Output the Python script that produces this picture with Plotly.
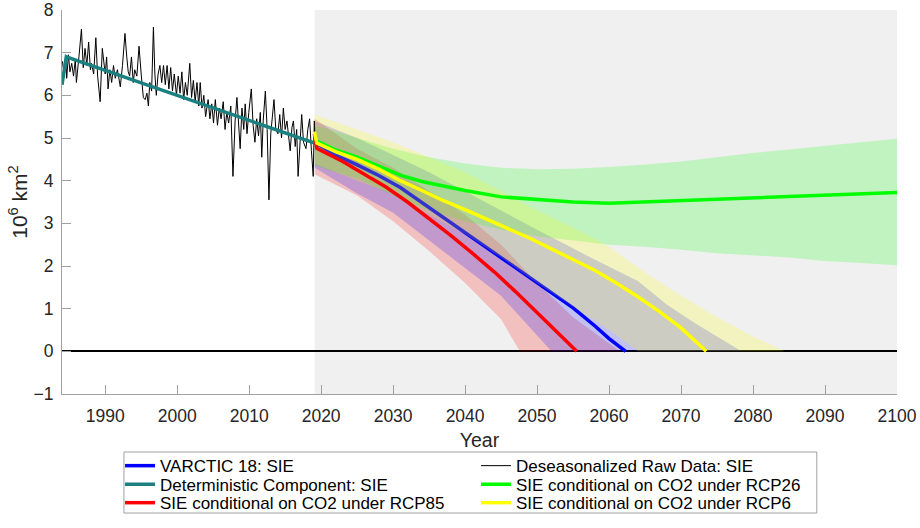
import plotly.graph_objects as go

# observed (deseasonalized) sea ice extent, 10^6 km^2
raw_years = [1984.05, 1984.3, 1984.5, 1984.65, 1984.9, 1985.1, 1985.35, 1985.6, 1985.85, 1986.0,
             1986.35, 1986.7, 1986.95, 1987.2, 1987.45, 1987.7, 1987.95, 1988.1, 1988.4, 1988.7,
             1988.95, 1989.3, 1989.6, 1989.8, 1990.0, 1990.2, 1990.4, 1990.65, 1990.9, 1991.15,
             1991.4, 1991.7, 1992.1, 1992.4, 1992.75, 1993.0, 1993.2, 1993.4, 1993.65, 1993.9,
             1994.1, 1994.4, 1994.7, 1995.0, 1995.3, 1995.55, 1995.8, 1996.0, 1996.2, 1996.45,
             1996.7, 1996.9, 1997.1, 1997.35, 1997.6, 1997.85, 1998.1, 1998.35, 1998.6, 1998.85,
             1999.1, 1999.35, 1999.6, 1999.9, 2000.15, 2000.4, 2000.65, 2000.9, 2001.15, 2001.4,
             2001.75, 2002.0, 2002.25, 2002.5, 2002.75, 2003.0, 2003.2, 2003.45, 2003.7, 2003.95,
             2004.3, 2004.55, 2004.8, 2005.05, 2005.3, 2005.6, 2005.85, 2006.1, 2006.4, 2006.65,
             2006.9, 2007.15, 2007.45, 2007.75, 2008.05, 2008.3, 2008.55, 2008.75, 2009.0, 2009.25,
             2009.45, 2009.7, 2009.95, 2010.3, 2010.55, 2010.8, 2011.05, 2011.3, 2011.55, 2011.75,
             2011.95, 2012.25, 2012.5, 2012.75, 2013.0, 2013.25, 2013.45, 2013.7, 2014.0, 2014.25,
             2014.5, 2014.75, 2015.0, 2015.25, 2015.5, 2015.7, 2015.95, 2016.15, 2016.4, 2016.6,
             2016.8, 2017.05, 2017.3, 2017.55, 2017.9, 2018.15, 2018.4, 2018.65, 2018.9, 2019.05,
             2019.15]
raw_sie = [6.8, 6.5, 6.95, 6.4, 6.95, 6.55, 6.75, 6.45, 6.85, 6.3,
           6.9, 7.55, 6.65, 7.1, 6.7, 7.25, 6.6, 6.75, 6.5, 7.35,
           6.45, 5.85, 7.1, 6.8, 6.5, 6.9, 6.15, 6.6, 6.3, 6.7,
           6.4, 6.6, 6.2, 6.7, 7.45, 6.9, 6.55, 6.45, 6.9, 6.3,
           6.6, 6.45, 7.15, 6.5, 5.95, 5.9, 6.05, 5.75, 6.3, 6.1,
           7.6, 6.5, 6.0, 6.5, 6.7, 6.3, 6.7, 6.25, 6.7, 6.15,
           6.65, 6.1, 6.5, 6.0, 6.45, 6.05, 6.55, 5.9, 6.3, 6.0,
           6.75, 5.95, 6.35, 5.85, 6.3, 5.75, 6.3, 5.7, 6.0, 5.5,
           5.9, 5.45, 5.8, 5.35, 5.9, 5.3, 5.7, 5.45, 5.85, 5.2,
           5.6, 5.35, 5.75, 4.1, 5.4, 5.95, 5.3, 4.75, 5.7, 5.2,
           5.8, 5.1, 5.6, 6.15, 5.3, 4.9, 5.45, 5.05, 5.6, 4.55,
           5.4, 6.1, 5.2, 3.55, 5.1, 5.65, 5.9, 5.2, 5.1, 5.55,
           5.0, 5.7, 5.2, 5.4, 4.9, 4.7, 5.25, 5.4, 4.8, 5.2,
           4.1, 5.0, 5.55, 4.9, 4.75, 5.2, 5.45, 4.7, 4.1, 5.4,
           5.0]

# deterministic component
det_years = [1984.0, 1984.6, 2019.1]
det_sie = [6.25, 6.9, 4.88]

# VARCTIC 18 projection
varctic_years = [2019.1, 2022, 2025, 2028, 2031, 2034, 2037, 2040, 2043, 2046,
                 2049, 2052, 2055, 2058, 2060, 2062.3]
varctic_sie = [4.9, 4.6, 4.37, 4.12, 3.84, 3.49, 3.13, 2.78, 2.43, 2.08,
               1.72, 1.37, 1.02, 0.6, 0.3, 0.0]
varctic_up_years = [2019.1, 2025, 2030, 2035, 2040, 2045, 2050, 2058, 2064, 2068, 2072, 2078.4]
varctic_up = [5.4, 5.0, 4.6, 4.2, 3.75, 3.3, 2.85, 2.15, 1.65, 1.1, 0.65, 0.0]
varctic_lo_years = [2019.1, 2025, 2030, 2035, 2040, 2045, 2052]
varctic_lo = [4.3, 3.7, 3.25, 2.6, 1.95, 1.3, 0.0]

# RCP85
rcp85_years = [2019.05, 2019.4, 2023, 2026, 2029, 2032, 2035, 2038, 2041, 2044,
               2047, 2050, 2053, 2055.5]
rcp85_sie = [5.1, 4.76, 4.45, 4.16, 3.85, 3.5, 3.12, 2.72, 2.3, 1.87,
             1.4, 0.9, 0.4, 0.0]
rcp85_up_years = [2019.1, 2025, 2030, 2035, 2040, 2045, 2050, 2055, 2061.5]
rcp85_up = [5.45, 4.75, 4.3, 3.75, 3.2, 2.5, 1.6, 0.8, 0.0]
rcp85_lo_years = [2019.1, 2025, 2030, 2035, 2040, 2045, 2047.6]
rcp85_lo = [4.15, 3.65, 3.05, 2.35, 1.6, 0.75, 0.0]

# RCP6
rcp6_years = [2019.05, 2019.4, 2022, 2025, 2028, 2031, 2034, 2037, 2040, 2043,
              2046, 2049, 2052, 2055, 2058, 2061, 2064, 2067, 2070, 2073.5]
rcp6_sie = [5.15, 4.88, 4.68, 4.5, 4.27, 4.0, 3.77, 3.53, 3.32, 3.1,
            2.87, 2.65, 2.4, 2.15, 1.9, 1.6, 1.28, 0.93, 0.55, 0.0]
rcp6_up_years = [2019.1, 2025, 2030, 2035, 2040, 2045, 2050, 2055, 2060, 2065,
                 2070, 2075, 2080, 2084.4]
rcp6_up = [5.55, 5.2, 4.9, 4.55, 4.2, 3.75, 3.3, 2.9, 2.45, 1.85,
           1.3, 0.8, 0.35, 0.0]
rcp6_lo_years = [2019.1, 2025, 2030, 2035, 2040, 2045, 2050, 2055, 2060, 2064]
rcp6_lo = [4.4, 4.0, 3.7, 3.2, 2.75, 2.2, 1.6, 1.05, 0.5, 0.0]

# RCP26
rcp26_years = [2019.1, 2022, 2025, 2028, 2031, 2034, 2037, 2040, 2045, 2050,
               2055, 2060, 2065, 2070, 2075, 2080, 2085, 2090, 2095, 2100]
rcp26_sie = [4.95, 4.72, 4.55, 4.33, 4.13, 3.98, 3.87, 3.77, 3.62, 3.55,
             3.5, 3.47, 3.5, 3.52, 3.56, 3.6, 3.63, 3.66, 3.69, 3.72]
rcp26_band_years = [2019.1, 2025, 2030, 2035, 2040, 2045, 2050, 2055, 2060, 2065,
                    2070, 2075, 2080, 2085, 2090, 2095, 2100]
rcp26_up = [5.3, 5.0, 4.75, 4.55, 4.4, 4.3, 4.27, 4.28, 4.32, 4.38,
            4.45, 4.55, 4.65, 4.73, 4.82, 4.9, 4.98]
rcp26_lo = [4.35, 4.05, 3.65, 3.3, 3.05, 2.85, 2.7, 2.6, 2.5, 2.45,
            2.38, 2.3, 2.25, 2.2, 2.12, 2.07, 2.02]

x_ticks = list(range(1990, 2101, 10))
y_ticks = list(range(-1, 9))

BLUE = "rgb(0,0,255)"
RED = "rgb(255,0,0)"
GREEN = "rgb(0,255,0)"
YELLOW = "rgb(255,255,0)"
TEAL = "rgb(26,128,128)"


def band(up_x, up_y, lo_x, lo_y, color):
    return go.Scatter(
        x=list(up_x) + list(lo_x)[::-1],
        y=list(up_y) + list(lo_y)[::-1],
        fill="toself",
        fillcolor=color,
        line=dict(width=0),
        mode="lines",
        showlegend=False,
        hoverinfo="skip",
    )


def line(x, y, name, color, width, legend):
    return go.Scatter(
        x=x, y=y, mode="lines", name=name,
        line=dict(color=color, width=width),
        legend=legend,
    )


fig = go.Figure()
fig.add_trace(band(rcp85_up_years, rcp85_up, rcp85_lo_years, rcp85_lo, "rgba(255,0,0,0.2)"))
fig.add_trace(band(varctic_up_years, varctic_up, varctic_lo_years, varctic_lo, "rgba(0,0,255,0.2)"))
fig.add_trace(band(rcp26_band_years, rcp26_up, rcp26_band_years, rcp26_lo, "rgba(0,255,0,0.2)"))
fig.add_trace(line(varctic_years, varctic_sie, "VARCTIC 18: SIE", BLUE, 3.5, "legend"))
fig.add_trace(band(rcp6_up_years, rcp6_up, rcp6_lo_years, rcp6_lo, "rgba(255,255,0,0.2)"))
fig.add_trace(line(raw_years, raw_sie, "Deseasonalized Raw Data: SIE", "black", 1, "legend2"))
fig.add_trace(line(det_years, det_sie, "Deterministic Component: SIE", TEAL, 3.5, "legend3"))
fig.add_trace(line(rcp26_years, rcp26_sie, "SIE conditional on CO2 under RCP26", GREEN, 3.5, "legend4"))
fig.add_trace(line(rcp85_years, rcp85_sie, "SIE conditional on CO2 under RCP85", RED, 3.5, "legend5"))
fig.add_trace(line(rcp6_years, rcp6_sie, "SIE conditional on CO2 under RCP6", YELLOW, 3.5, "legend6"))

# shaded forecast period
fig.add_shape(type="rect", xref="x", yref="paper",
              x0=det_years[-1], x1=x_ticks[-1], y0=0, y1=1,
              fillcolor="#f0f0f0", line=dict(width=0), layer="below")
# legend frame around the two legend columns
fig.add_shape(type="rect", xref="paper", yref="paper",
              x0=0.0742, x1=0.904, y0=-0.31, y1=-0.151,
              fillcolor="rgba(0,0,0,0)", line=dict(color="#a0a0a0", width=1))

axis_font = dict(family="Liberation Sans, Arial, sans-serif", size=17.5, color="#262626")


def legend_at(x, y):
    return dict(
        orientation="v",
        x=x,
        xanchor="left",
        y=y,
        yanchor="top",
        itemwidth=30,
        bgcolor="rgba(0,0,0,0)",
        borderwidth=0,
        font=dict(size=17, color="black"),
    )


col_x = [0.0695, 0.4958]
row_y = [-0.1409, -0.1891, -0.2373]

fig.update_layout(
    width=920,
    height=528,
    paper_bgcolor="white",
    plot_bgcolor="white",
    margin=dict(l=62, r=23, t=10, b=134, autoexpand=False),
    font=dict(family="Liberation Sans, Arial, sans-serif", color="#262626"),
    xaxis=dict(
        range=[1984, 2100],
        tickvals=x_ticks,
        ticks="inside",
        ticklen=9,
        tickcolor="#a0a0a0",
        showline=True,
        linecolor="#a0a0a0",
        showgrid=False,
        zeroline=False,
        tickfont=axis_font,
        ticklabelstandoff=6,
        title=dict(text="Year", font=dict(size=19.5, color="#262626"), standoff=8),
    ),
    yaxis=dict(
        range=[-1, 8],
        tickvals=y_ticks,
        ticks="inside",
        ticklen=9,
        tickcolor="#a0a0a0",
        showline=True,
        linecolor="#a0a0a0",
        showgrid=False,
        zeroline=True,
        zerolinecolor="black",
        zerolinewidth=2,
        tickfont=axis_font,
        ticklabelstandoff=4,
        title=dict(text="10<sup>6</sup> km<sup>2</sup>", font=dict(size=21, color="#262626"),
                   standoff=0),
    ),
    legend=legend_at(col_x[0], row_y[0]),
    legend2=legend_at(col_x[1], row_y[0]),
    legend3=legend_at(col_x[0], row_y[1]),
    legend4=legend_at(col_x[1], row_y[1]),
    legend5=legend_at(col_x[0], row_y[2]),
    legend6=legend_at(col_x[1], row_y[2]),
)

# drop the page's default body margin so the 920x528 figure sits at the window origin
fig.write_html(
    "out.html",
    config={"displayModeBar": False},
    post_script="document.body.style.margin='0';",
)
